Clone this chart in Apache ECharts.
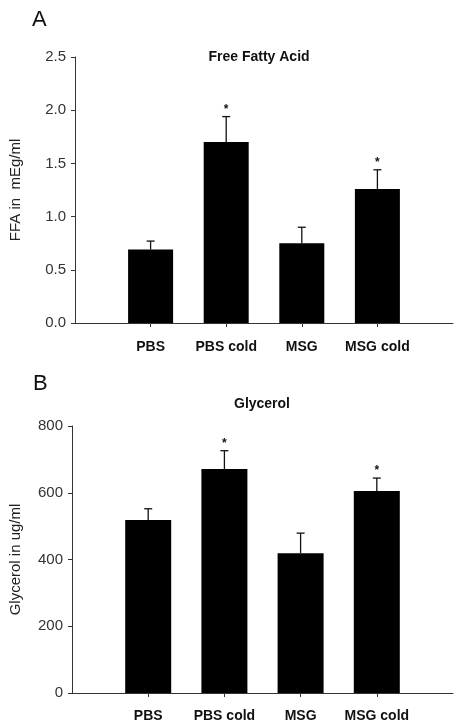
<!DOCTYPE html>
<html><head><meta charset="utf-8">
<script src="https://cdn.jsdelivr.net/npm/echarts@6/dist/echarts.min.js"></script>
<style>html,body{margin:0;padding:0;background:#fff}#c{width:457px;height:724px}</style>
</head><body><div id="c"></div>
<script>
const categories = ['', 'PBS', 'PBS cold', 'MSG', 'MSG cold', ''];
const ffaMeans = [null, 0.69, 1.70, 0.75, 1.26, null];
const ffaErr = [null, 0.08, 0.24, 0.15, 0.18, null];
const ffaSig = [false, false, true, false, true, false];
const glyMeans = [null, 518, 671, 419, 605, null];
const glyErr = [null, 34, 55, 60, 39, null];
const glySig = [false, false, true, false, true, false];
const ffaTicks = [0, 2.5, 0.5];
const glyTicks = [0, 800, 200];

const FONT = '"Liberation Sans", Arial, sans-serif';
const chart = echarts.init(document.getElementById('c'));

function errData(means, errs, sig) {
  return means.map((m, i) => m == null ? null : [i, m, m + errs[i], sig[i] ? 1 : 0]).filter(d => d);
}
function errRender(params, api) {
  const x = api.value(0);
  const base = api.coord([x, api.value(1)]);
  const top = api.coord([x, api.value(2)]);
  const children = [
    {type: 'line', shape: {x1: base[0], y1: base[1], x2: top[0], y2: top[1]}, style: {stroke: '#111', lineWidth: 1.3}},
    {type: 'line', shape: {x1: top[0] - 4, y1: top[1], x2: top[0] + 4, y2: top[1]}, style: {stroke: '#111', lineWidth: 1.3}}
  ];
  if (api.value(3)) {
    children.push({type: 'text', style: {text: '*', x: top[0], y: top[1] - 7, align: 'center', verticalAlign: 'middle', font: 'bold 12px ' + FONT, fill: '#111'}});
  }
  return {type: 'group', children};
}

const axisLine = {lineStyle: {color: '#333', width: 1}};
function xAxis(gi, margin) {
  return {
    type: 'category', gridIndex: gi, data: categories, boundaryGap: false,
    axisLine: axisLine,
    axisTick: {show: true, length: 4, interval: (i, v) => v !== '', inside: false, lineStyle: {color: '#333'}},
    axisLabel: {interval: 0, margin: margin, fontFamily: FONT, fontSize: 14, fontWeight: 'bold', color: '#111'},
    splitLine: {show: false}
  };
}
function yAxis(gi, t, name, gap, digits) {
  return {
    type: 'value', gridIndex: gi, min: t[0], max: t[1], interval: t[2],
    name: name, nameLocation: 'middle', nameRotate: 90, nameGap: gap,
    nameTextStyle: {fontFamily: FONT, fontSize: 15, color: '#222'},
    axisLine: {show: true, lineStyle: {color: '#333', width: 1}},
    axisTick: {show: true, length: 4, lineStyle: {color: '#333'}},
    axisLabel: {margin: 9, fontFamily: FONT, fontSize: 15, color: '#333', formatter: v => v.toFixed(digits)},
    splitLine: {show: false}
  };
}

chart.setOption({
  animation: false,
  backgroundColor: '#fff',
  title: [
    {text: 'A', left: 27, top: 4, textStyle: {fontFamily: FONT, fontSize: 22, fontWeight: 'normal', color: '#111'}},
    {text: 'Free Fatty Acid', left: 254, top: 45, textAlign: 'center', textStyle: {fontFamily: FONT, fontSize: 14, fontWeight: 'bold', color: '#111'}},
    {text: 'B', left: 28, top: 368, textStyle: {fontFamily: FONT, fontSize: 22, fontWeight: 'normal', color: '#111'}},
    {text: 'Glycerol', left: 257, top: 392, textAlign: 'center', textStyle: {fontFamily: FONT, fontSize: 14, fontWeight: 'bold', color: '#111'}}
  ],
  grid: [
    {left: 72, top: 57, width: 381, height: 266},
    {left: 69, top: 426, width: 384, height: 267}
  ],
  xAxis: [xAxis(0, 17), xAxis(1, 16)],
  yAxis: [yAxis(0, ffaTicks, 'FFA in  mEg/ml', 52, 1), yAxis(1, glyTicks, 'Glycerol in ug/ml', 49, 0)],
  series: [
    {type: 'bar', xAxisIndex: 0, yAxisIndex: 0, data: ffaMeans, barWidth: 45, itemStyle: {color: '#000'}, z: 2},
    {type: 'custom', xAxisIndex: 0, yAxisIndex: 0, data: errData(ffaMeans, ffaErr, ffaSig), renderItem: errRender, z: 3},
    {type: 'bar', xAxisIndex: 1, yAxisIndex: 1, data: glyMeans, barWidth: 46, itemStyle: {color: '#000'}, z: 2},
    {type: 'custom', xAxisIndex: 1, yAxisIndex: 1, data: errData(glyMeans, glyErr, glySig), renderItem: errRender, z: 3}
  ]
});
</script></body></html>
